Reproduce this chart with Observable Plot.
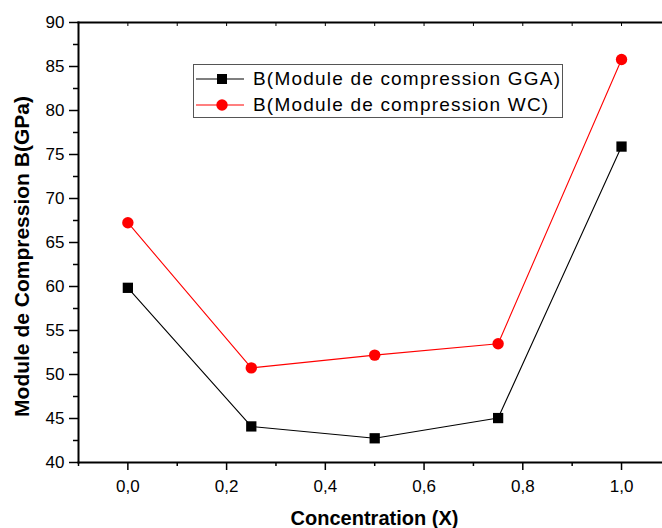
<!DOCTYPE html>
<html><head><meta charset="utf-8">
<script src="https://cdn.jsdelivr.net/npm/d3@7"></script>
<script src="https://cdn.jsdelivr.net/npm/@observablehq/plot@0.6"></script>
<style>
body{margin:0;background:#fff}
#wrap{position:relative;width:662px;height:528px}
#legend{position:absolute;left:193px;top:64px;width:370px;height:54px;border:1px solid #555;box-sizing:border-box;font-family:"Liberation Sans",Arial,sans-serif;font-size:19px;letter-spacing:1.2px;color:#000;background:#fff}
.row{position:absolute;left:0;height:26px;display:flex;align-items:center;white-space:nowrap}
.row svg{flex:none}
</style></head>
<body><div id="wrap"></div>
<script>
const concentration = [0, 0.25, 0.5, 0.75, 1.0];
const ggaValues = [59.85, 44.1, 42.75, 45.05, 75.9];
const wcValues = [67.25, 50.75, 52.2, 53.5, 85.8];
const seriesNames = ["B(Module de compression GGA)", "B(Module de compression WC)"];
const seriesColors = ["#000000", "#ff0000"];
const seriesSymbols = ["square", "circle"];
const yMajorTicks = [40, 45, 50, 55, 60, 65, 70, 75, 80, 85, 90];
const yMinorTicks = [42.5, 47.5, 52.5, 57.5, 62.5, 67.5, 72.5, 77.5, 82.5, 87.5];
const xMajorTicks = [0, 0.2, 0.4, 0.6, 0.8, 1.0];
const xMinorTicks = [-0.1, 0.1, 0.3, 0.5, 0.7, 0.9];
const xTopTicks = [-0.1, 0, 0.1, 0.2, 0.3, 0.4, 0.5, 0.6, 0.7, 0.8, 0.9, 1.0];
const xLabel = "Concentration (X)";
const yLabel = "Module de Compression B(GPa)";

const font = "'Liberation Sans', Arial, sans-serif";
const fmt = d => d.toFixed(1).replace(".", ",");

const series = [ggaValues, wcValues];
const marks = [];
series.forEach((vals, s) => {
  marks.push(Plot.line(concentration, {x: d => d, y: (d, i) => vals[i], stroke: seriesColors[s], strokeWidth: 1.1}));
});
series.forEach((vals, s) => {
  marks.push(Plot.dot(concentration, {x: d => d, y: (d, i) => vals[i], fill: seriesColors[s], stroke: "none",
    symbol: seriesSymbols[s], r: s === 0 ? 5.8 : 5.7}));
});

const chart = Plot.plot({
  width: 662, height: 528,
  marginTop: 22, marginLeft: 78, marginRight: 0, marginBottom: 66,
  style: {fontFamily: font, background: "#fff", color: "#000"},
  x: {domain: [-0.1, 1.083]},
  y: {domain: [40, 90]},
  marks: [
    Plot.axisY({ticks: yMajorTicks, tickSize: 9, tickPadding: 5, tickFormat: d => String(d), fontSize: 17, label: null, strokeWidth: 1.5}),
    Plot.axisY({ticks: yMinorTicks, tickSize: 5, text: null, label: null, strokeWidth: 1.5}),
    Plot.axisX({ticks: xMajorTicks, tickSize: 8, tickPadding: 9, tickFormat: fmt, fontSize: 17, label: null, strokeWidth: 1.5}),
    Plot.axisX({ticks: xMinorTicks, tickSize: 4, text: null, label: null, strokeWidth: 1.5}),
    Plot.axisX({anchor: "top", ticks: xTopTicks, tickSize: -3, text: null, label: null, strokeWidth: 1}),
    Plot.frame({anchor: "left", strokeWidth: 2}),
    Plot.frame({anchor: "bottom", strokeWidth: 2}),
    Plot.frame({anchor: "top", strokeWidth: 2}),
    ...marks,
    Plot.text([xLabel], {text: d => d, frameAnchor: "bottom", textAnchor: "middle", dx: 4, dy: 56, fontSize: 20, fontWeight: "bold", fontFamily: font, lineAnchor: "middle"}),
    Plot.text([yLabel], {text: d => d, frameAnchor: "left", textAnchor: "middle", rotate: -90, dx: -56, dy: 14, fontSize: 21, fontWeight: "bold", fontFamily: font, lineAnchor: "middle"})
  ]
});

const wrap = document.getElementById("wrap");
wrap.appendChild(chart);

const legend = document.createElement("div");
legend.id = "legend";
seriesNames.forEach((name, s) => {
  const row = document.createElement("div");
  row.className = "row";
  row.style.top = (s === 0 ? 1 : 27) + "px";
  const sym = seriesSymbols[s] === "square"
    ? `<rect x="23" y="8" width="10" height="10" fill="${seriesColors[s]}"/>`
    : `<circle cx="28" cy="13" r="5.7" fill="${seriesColors[s]}"/>`;
  row.innerHTML = `<svg width="59" height="26"><line x1="2" x2="50" y1="13" y2="13" stroke="${seriesColors[s]}" stroke-width="1.1"/>${sym}</svg><span>${name}</span>`;
  legend.appendChild(row);
});
wrap.appendChild(legend);
</script>
</body></html>
